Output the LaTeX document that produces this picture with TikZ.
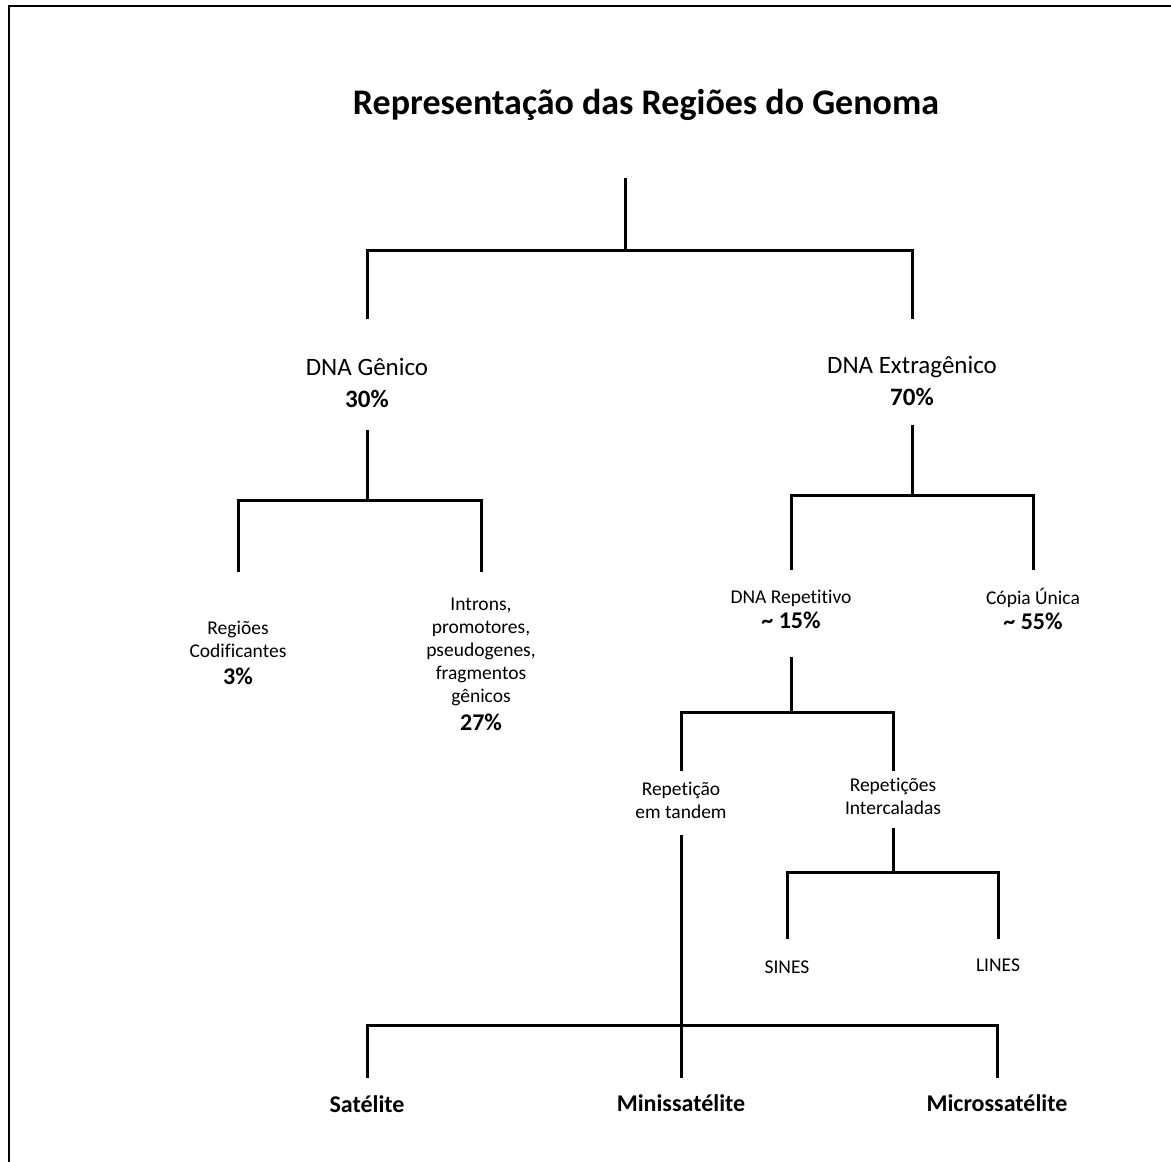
\documentclass[tikz,border=0pt]{standalone}
\usepackage{fontspec}
\setmainfont{Carlito}[Ligatures=CommonOff]
\begin{document}
\begin{tikzpicture}[x=1pt, y=-1pt,
		branch/.style={line width=3pt},
		frame/.style={line width=2.8pt},
		big/.style={align=center, inner sep=0pt, font=\fontsize{25}{32}\selectfont},
		small/.style={align=center, inner sep=0pt, font=\fontsize{19.5}{23}\selectfont},
		leaf/.style={inner sep=0pt, font=\fontsize{24}{28}\selectfont\bfseries}]
			\useasboundingbox(0, 0) rectangle (1171, 1162);
			\draw[frame](9, 1162) -- (9, 6) -- (1171, 6);

			\node (title) at(646, 105){\fontsize{36}{40}\selectfont\bfseries Representação das Regiões do Genoma};
			\coordinate (top) at(625, 178);

			% rows of the bars
			\coordinate (bar0) at(0, 250);	\coordinate (end0) at(0, 319);
			\coordinate (up1) at(0, 430);	\coordinate (bar1) at(0, 500);	\coordinate (end1) at(0, 572);
			\coordinate (up2) at(0, 425);	\coordinate (bar2) at(0, 495);	\coordinate (end2) at(0, 570);
			\coordinate (up3) at(0, 657);	\coordinate (bar3) at(0, 712);	\coordinate (end3) at(0, 771);
			\coordinate (up4) at(0, 828);	\coordinate (bar4) at(0, 872);	\coordinate (end4) at(0, 939);
			\coordinate (up5) at(0, 835);	\coordinate (bar5) at(0, 1025);	\coordinate (end5) at(0, 1078);

			\node[big] (gen) at(367, 383){DNA Gênico\\\bfseries 30\%};
			\node[big] (extra) at(912, 381){DNA Extragênico\\\bfseries 70\%};

			\node[small] (cod) at(238, 653){Regiões\\Codificantes\\[4pt]\fontsize{24}{28}\selectfont\bfseries 3\%};
			\node[small] (intr) at(481, 664){Introns,\\promotores,\\pseudogenes,\\fragmentos\\gênicos\\[5pt]\fontsize{24}{28}\selectfont\bfseries 27\%};

			\node[small] (rep) at(791, 609){DNA Repetitivo\\[2pt]\fontsize{24}{28}\selectfont\bfseries \textasciitilde{} 15\%};
			\node[small] (unica) at(1033, 609){Cópia Única\\[2pt]\fontsize{24}{28}\selectfont\bfseries \textasciitilde{} 55\%};

			\node[small] (tand) at(681, 800){Repetição\\em tandem};
			\node[small] (inter) at(893, 796){Repetições\\Intercaladas};

			\node[small] (sines) at(787, 967){SINES};
			\node[small] (lines) at(998, 965){LINES};

			\node[leaf] (sat) at(367, 1104){Satélite};
			\node[leaf] (mini) at(681, 1103){Minissatélite};
			\node[leaf] (micro) at(997, 1103){Microssatélite};

			\draw[branch](top) -- (top |- bar0);
			\draw[branch](gen |- end0) |- (top |- bar0) -| (extra |- end0);

			\draw[branch](gen |- up1) -- (gen |- bar1);
			\draw[branch](cod |- end1) |- (gen |- bar1) -| (intr |- end1);

			\draw[branch](extra |- up2) -- (extra |- bar2);
			\draw[branch](rep |- end2) |- (extra |- bar2) -| (unica |- end2);

			\draw[branch](rep |- up3) -- (rep |- bar3);
			\draw[branch](tand |- end3) |- (rep |- bar3) -| (inter |- end3);

			\draw[branch](inter |- up4) -- (inter |- bar4);
			\draw[branch](sines |- end4) |- (inter |- bar4) -| (lines |- end4);

			\draw[branch](tand |- up5) -- (mini |- end5);
			\draw[branch](sat |- end5) |- (tand |- bar5) -| (micro |- end5);
		\end{tikzpicture}
\end{document}
